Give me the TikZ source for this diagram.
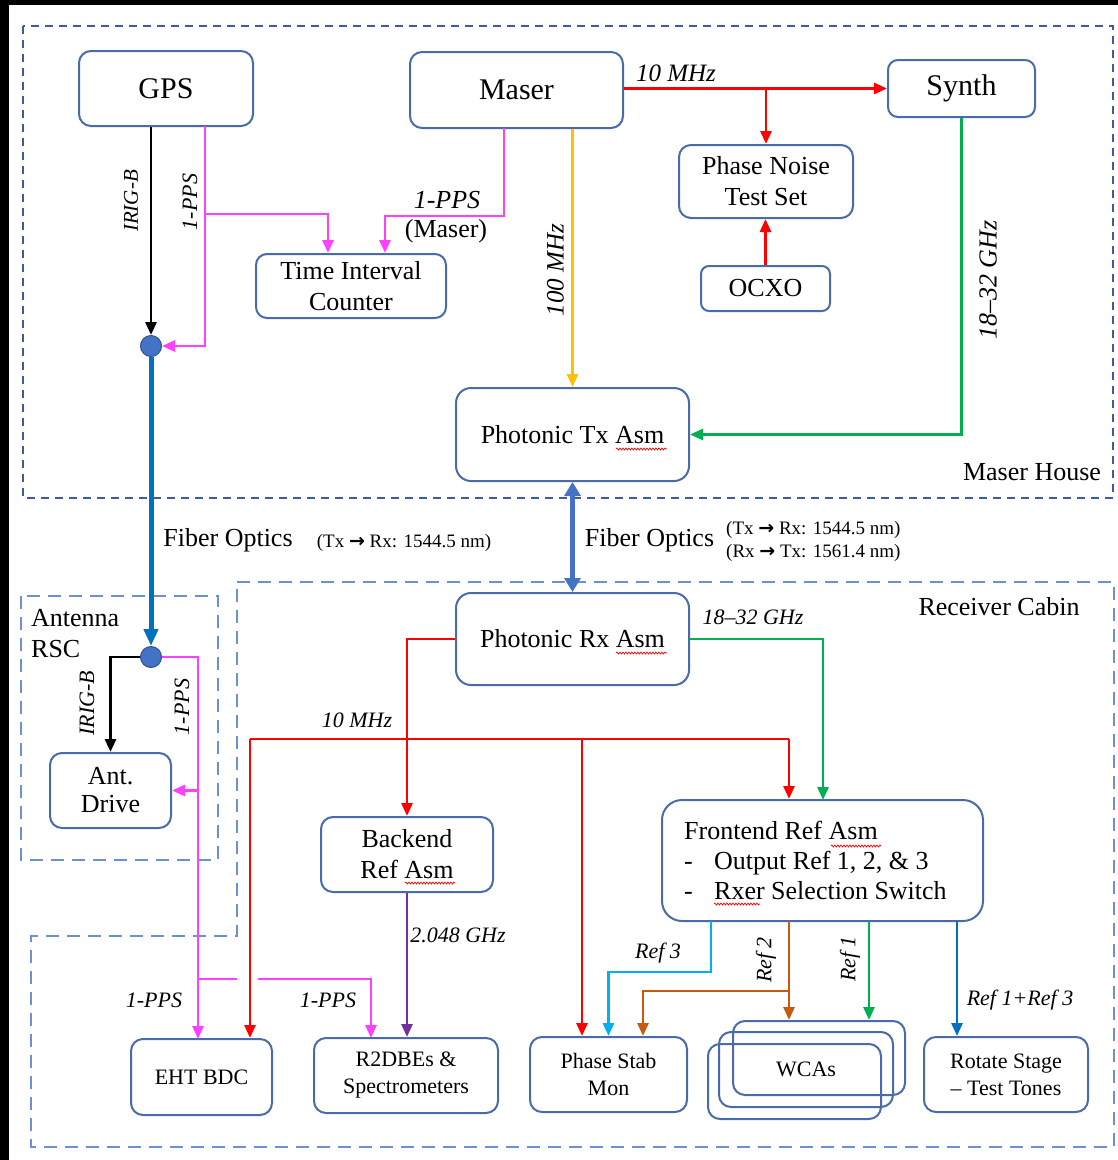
\documentclass[tikz,border=0pt]{standalone}
\usepackage{fontspec}
\setmainfont{Liberation Serif}
\newfontfamily\dejavu{DejaVu Sans}
\usetikzlibrary{arrows.meta,decorations.pathmorphing,calc}
\definecolor{boxc}{HTML}{4A6BAA}
\definecolor{mhc}{HTML}{3F5B9A}
\definecolor{rcc}{HTML}{6D8FD3}
\definecolor{cred}{HTML}{FF0000}
\definecolor{cmag}{HTML}{FF40FF}
\definecolor{corg}{HTML}{FFC000}
\definecolor{cgrn}{HTML}{00B050}
\definecolor{ccyan}{HTML}{00B0F0}
\definecolor{cbrn}{HTML}{C55A11}
\definecolor{cpur}{HTML}{7030A0}
\definecolor{cblue}{HTML}{0070C0}
\definecolor{cfib}{HTML}{4472C4}
\definecolor{cdot}{HTML}{2F528F}
\begin{document}
\begin{tikzpicture}[x=1pt,y=-1pt,
  box/.style={draw=boxc,line width=2pt,fill=white,rounded corners=12pt,inner sep=0pt,align=center},
  wca/.style={draw=boxc,line width=2pt,rounded corners=12pt,inner sep=0pt,align=center},
  ln/.style={line width=2.8pt},
  arr/.style={-{Triangle[length=13pt,width=11pt]}},
  big/.style={font=\fontsize{30}{34}\selectfont},
  mid/.style={font=\fontsize{26}{31}\selectfont},
  sml/.style={font=\fontsize{22}{27}\selectfont},
  lab/.style={font=\fontsize{25}{30}\selectfont\itshape,inner sep=0pt},
  slab/.style={font=\fontsize{22}{26}\selectfont\itshape,inner sep=0pt},
  txt/.style={inner sep=0pt},
  dot/.style={circle,fill=cfib,draw=cdot,line width=1pt,minimum size=21pt,inner sep=0pt},
  mh/.style={draw=mhc,line width=2pt,dash pattern=on 8pt off 6pt},
  rc/.style={draw=rcc,line width=2.2pt,dash pattern=on 13pt off 8pt},
  sq/.style={draw=red,line width=0.7pt,decorate,decoration={snake,amplitude=1pt,segment length=3pt}}
]
\fill[white] (0,0) rectangle (1118,1160);
\fill[black] (0,0) rectangle (9,1160);
\fill[black] (0,0) rectangle (1118,5);
\useasboundingbox (0,0) rectangle (1118,1160);

% regions
\draw[mh] (23,26) rectangle (1113,498);
\draw[rc] (21,596) rectangle (218,860);
\draw[rc] (237,582) -- (1114,582) -- (1114,1147) -- (31,1147) -- (31,936) -- (237,936) -- cycle;

% nodes
\node[box,big,minimum width=174pt,minimum height=75pt] (gps) at (166,88.5) {GPS};
\node[box,big,minimum width=213pt,minimum height=76pt] (maser) at (516.5,90) {Maser};
\node[box,big,minimum width=147pt,minimum height=57pt,rounded corners=10pt] (synth) at (961.5,88.5) {Synth};
\node[box,mid,minimum width=174pt,minimum height=73pt] (pnts) at (766,181.5) {Phase Noise\\Test Set};
\node[box,mid,minimum width=129pt,minimum height=45pt,rounded corners=8pt] (ocxo) at (765.5,288.5) {OCXO};
\node[box,mid,minimum width=190pt,minimum height=64pt,rounded corners=11pt] (tic) at (351,286) {Time Interval\\Counter};
\node[box,mid,minimum width=233pt,minimum height=93pt,rounded corners=15pt] (ptx) at (572.5,434.5) {Photonic Tx Asm};
\node[box,mid,minimum width=233pt,minimum height=92pt,rounded corners=15pt] (prx) at (572.5,639) {Photonic Rx Asm};
\node[box,font=\fontsize{26}{28}\selectfont,minimum width=121pt,minimum height=75pt] (ant) at (110.5,790.5) {Ant.\\Drive};
\node[box,mid,minimum width=172pt,minimum height=75pt] (be) at (407,854.5) {Backend\\Ref Asm};
\node[box,minimum width=321pt,minimum height=121pt,rounded corners=20pt] (fe) at (822.5,860.5) {};
\node[txt,anchor=west,font=\fontsize{26}{30}\selectfont] (fetxt) at (684,863) {\begin{tabular}{@{}p{30pt}@{}l@{}}\multicolumn{2}{@{}l@{}}{Frontend Ref Asm}\\-&Output Ref 1, 2, \& 3\\-&Rxer Selection Switch\end{tabular}};
\node[box,sml,minimum width=141pt,minimum height=76pt] (eht) at (201.5,1077) {EHT BDC};
\node[box,sml,minimum width=184pt,minimum height=75pt] (r2) at (406,1075.5) {R2DBEs \&\\Spectrometers};
\node[box,sml,minimum width=157pt,minimum height=75pt] (ps) at (608.5,1074.5) {Phase Stab\\Mon};
\node[wca,minimum width=172pt,minimum height=74pt] (wca1) at (819,1058) {};
\node[wca,sml,minimum width=174pt,minimum height=75pt] (wca2) at (806,1069.5) {WCAs};
\node[wca,minimum width=173pt,minimum height=75pt] (wca3) at (794.5,1081.5) {};
\node[box,sml,minimum width=164pt,minimum height=75pt] (rot) at (1006,1074.5) {Rotate Stage\\\textendash{} Test Tones};
\node[dot] (c1) at (151,346) {};
\node[dot] (c2) at (151,657) {};

% spell-check squiggles
\draw[sq] (616,449) -- (667,449);
\draw[sq] (616,653) -- (667,653);
\draw[sq] (405,883) -- (455,883);
\draw[sq] (831,846) -- (881,846);
\draw[sq] (714,904) -- (760,904);

% GPS / maser house connectors
\draw[ln,arr] (gps.south -| c1) -- (c1.north);
\coordinate (gpsP) at (205,126);
\coordinate (ticA) at (328,214);
\coordinate (masP) at (504,128);
\coordinate (ticB) at (385,216);
\draw[ln,cmag,arr] (gpsP) |- (c1.east);
\draw[ln,cmag,arr] (gpsP |- ticA) -- (ticA) -- (ticA |- tic.north);
\draw[ln,cmag,arr] (masP) |- (ticB) -- (ticB |- tic.north);
\draw[ln,cred,arr] (maser.east |- synth.west) -- (synth.west);
\draw[ln,cred,arr] (pnts.north |- synth.west) -- (pnts.north);
\draw[ln,cred,arr] (ocxo.north) -- (ocxo.north |- pnts.south);
\draw[ln,corg,arr] (maser.south -| ptx.north) -- (ptx.north);
\draw[ln,cgrn,arr] (synth.south) |- (ptx.east);

% fibres
\draw[line width=5.5pt,cfib,{Triangle[length=14pt,width=16pt]}-{Triangle[length=14pt,width=16pt]}] (ptx.south) -- (prx.north);
\draw[line width=5pt,cblue,-{Triangle[length=17pt,width=14pt]}] (c1.south) -- (c2.north);

% antenna
\coordinate (ehtP) at (198,1039);
\coordinate (mj) at (198,979);
\coordinate (mg1) at (237,979);
\coordinate (mg2) at (258,979);
\coordinate (r2P) at (371,1038);
\draw[ln,arr] (c2.west) -| (ant.north);
\draw[ln,cmag,arr] (c2.east) -| (ehtP);
\draw[ln,cmag,arr] (ehtP |- ant.east) -- (ant.east);
\draw[ln,cmag] (mj) -- (mg1);
\draw[ln,cmag,arr] (mg2) -| (r2P);

% receiver cabin
\coordinate (rl) at (250,739);
\coordinate (rm) at (582,739);
\coordinate (rr) at (789,739);
\coordinate (feG) at (823,800);
\draw[ln,cred,arr] (prx.west) -| (be.north);
\draw[ln,cred] (rl) -- (rr);
\draw[ln,cred,arr] (rl) -- (rl |- eht.north);
\draw[ln,cred,arr] (rm) -- (rm |- ps.north);
\draw[ln,cred,arr] (rr) -- (rr |- fe.north);
\draw[ln,cgrn,arr] (prx.east) -| (feG);
\draw[ln,cpur,arr] (be.south) -- (be.south |- r2.north);
\coordinate (o3) at (711,921);
\coordinate (o2) at (789,921);
\coordinate (o1) at (869,921);
\coordinate (o13) at (957,921);
\coordinate (cy3) at (608.5,972);
\coordinate (br2) at (643,991);
\draw[ln,ccyan,arr] (o3) |- (cy3) -- (ps.north);
\draw[ln,cbrn,arr] (o2) -- (o2 |- wca1.north);
\draw[ln,cbrn,arr] (o2 |- br2) -- (br2) -- (br2 |- ps.north);
\draw[ln,cgrn,arr] (o1) -- (o1 |- wca1.north);
\draw[ln,cblue,arr] (o13) -- (o13 |- rot.north);

% labels
\node[txt,font=\fontsize{21}{25}\selectfont\itshape,rotate=90] (l1) at (131,201) {IRIG-B};
\node[txt,font=\fontsize{22}{26}\selectfont\itshape,rotate=90] (l2) at (190,202) {1-PPS};
\node[lab,font=\fontsize{26}{30}\selectfont\itshape] (l3) at (447,200) {1-PPS};
\node[txt,mid] (l4) at (446,231) {(Maser)};
\node[lab] (l5) at (676,73) {10 MHz};
\node[lab,rotate=90] (l6) at (555.5,270) {100 MHz};
\node[lab,font=\fontsize{26}{30}\selectfont\itshape,rotate=90] (l7) at (988,280) {18\textendash32 GHz};
\node[txt,mid] (l8) at (1032,472) {Maser House};
\node[txt,mid] (l9) at (228,540) {Fiber Optics};
\node[txt,font=\fontsize{19}{23}\selectfont] (l10) at (404,543) {(Tx {\dejavu\bfseries →} Rx: 1544.5 nm)};
\node[txt,mid] (l11) at (649.5,540) {Fiber Optics};
\node[txt,font=\fontsize{19}{23}\selectfont,anchor=west,align=left] (l12) at (726,541.5) {(Tx {\dejavu\bfseries →} Rx: 1544.5 nm)\\(Rx {\dejavu\bfseries →} Tx: 1561.4 nm)};
\node[txt,mid] (l13) at (999,607) {Receiver Cabin};
\node[txt,mid,anchor=base west] (l14) at (31,626) {Antenna};
\node[txt,mid,anchor=base west] (l15) at (31,657) {RSC};
\node[slab] (l16) at (753,617) {18\textendash32 GHz};
\node[slab] (l17) at (357,720) {10 MHz};
\node[slab,rotate=90] (l18) at (87,703) {IRIG-B};
\node[slab,rotate=90] (l19) at (182,707) {1-PPS};
\node[slab] (l20) at (458,935) {2.048 GHz};
\node[slab] (l21) at (154,1000) {1-PPS};
\node[slab] (l22) at (328,1000) {1-PPS};
\node[slab] (l23) at (658,953) {Ref 3};
\node[slab,rotate=90] (l24) at (766,960) {Ref 2};
\node[slab,rotate=90] (l25) at (850,959) {Ref 1};
\node[slab] (l26) at (1020,1000) {Ref 1+Ref 3};
\end{tikzpicture}
\end{document}
